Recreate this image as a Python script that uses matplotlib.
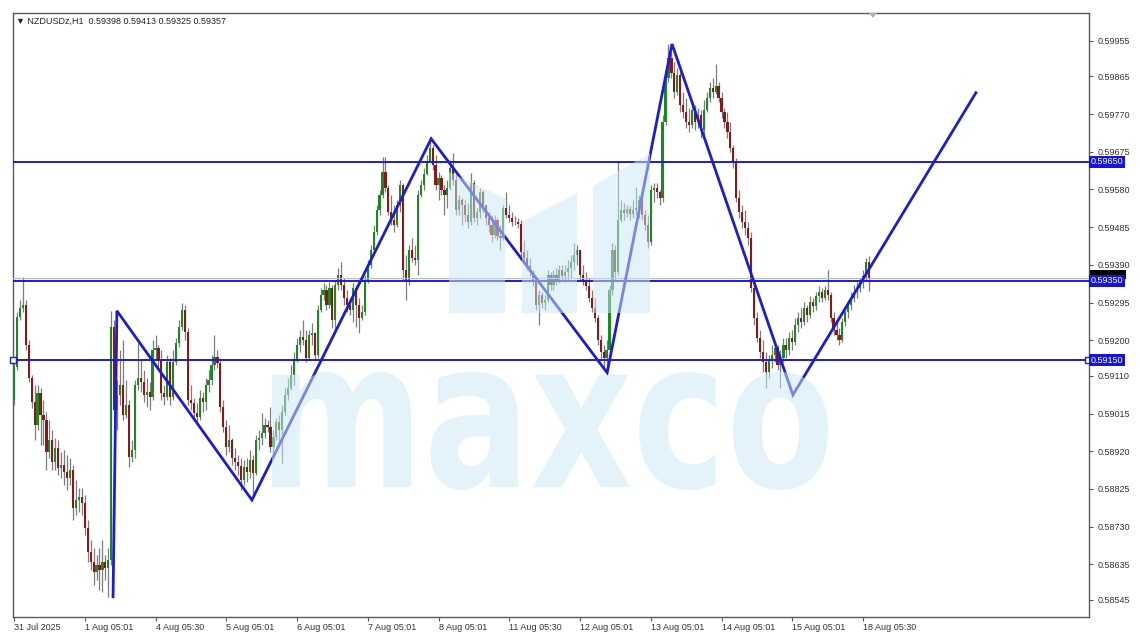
import numpy as np
import matplotlib.pyplot as plt
from matplotlib.patches import PathPatch, Polygon, Rectangle
from matplotlib.textpath import TextPath
from matplotlib.font_manager import FontProperties
from matplotlib.transforms import Affine2D, blended_transform_factory

plt.rcParams['font.family'] = ['Liberation Sans', 'DejaVu Sans']

SYMBOL = "NZDUSDz,H1"
LAST_OHLC = "0.59398 0.59413 0.59325 0.59357"

# H1 bars, prices in 1e-5 units; open of each bar = previous close
first_open = 59049
closes = [
    59132, 59258, 59281, 59289, 59188, 59105, 59043, 58986, 59067, 59011,
    58999, 58918, 58948, 58893, 58928, 58877, 58885, 58867, 58852, 58872,
    58777, 58797, 58804, 58789, 58726, 58666, 58640, 58615, 58633, 58620,
    58640, 58625, 58645, 59233, 59024, 59062, 59087, 59011, 59036, 58905,
    58923, 59087, 59105, 59095, 59062, 59069, 59057, 59175, 59180, 59150,
    59067, 59057, 59145, 59057, 59145, 59193, 59233, 59276, 59221, 59049,
    59041, 59016, 59006, 59054, 59043, 59087, 59100, 59137, 59158, 59142,
    59031, 58981, 58930, 58948, 58903, 58893, 58883, 58847, 58880, 58867,
    58898, 58865, 58948, 58953, 58966, 58986, 58981, 58930, 58956, 58994,
    58973, 59019, 59062, 59080, 59112, 59150, 59188, 59208, 59200, 59155,
    59213, 59218, 59163, 59276, 59314, 59327, 59289, 59332, 59251, 59339,
    59364, 59339, 59306, 59289, 59276, 59332, 59289, 59256, 59271, 59352,
    59390, 59427, 59473, 59528, 59566, 59624, 59584, 59523, 59503, 59490,
    59541, 59591, 59377, 59347, 59427, 59407, 59402, 59566, 59591, 59619,
    59649, 59685, 59642, 59591, 59609, 59579, 59566, 59584, 59634, 59604,
    59528, 59554, 59541, 59516, 59498, 59596, 59508, 59523, 59574, 59541,
    59508, 59490, 59465, 59503, 59463, 59458, 59533, 59516, 59508, 59498,
    59498, 59493, 59422, 59407, 59387, 59372, 59347, 59289, 59314, 59294,
    59301, 59364, 59339, 59364, 59352, 59377, 59362, 59372, 59382, 59397,
    59415, 59427, 59364, 59347, 59337, 59306, 59281, 59256, 59200, 59170,
    59155, 59175, 59327, 59427, 59372, 59503, 59528, 59521, 59531, 59518,
    59528, 59533, 59554, 59516, 59490, 59448, 59579, 59584, 59574, 59559,
    59750, 59861, 59912, 59874, 59826, 59869, 59793, 59775, 59750, 59743,
    59781, 59750, 59768, 59730, 59781, 59811, 59836, 59826, 59841, 59811,
    59775, 59750, 59725, 59685, 59649, 59559, 59523, 59498, 59483, 59458,
    59332, 59256, 59205, 59170, 59145, 59120, 59150, 59163, 59180, 59137,
    59155, 59188, 59175, 59205, 59195, 59238, 59256, 59246, 59281, 59264,
    59296, 59286, 59312, 59322, 59306, 59327, 59314, 59256, 59226, 59213,
    59200, 59246, 59271, 59289, 59306, 59322, 59332, 59347, 59362, 59398,
    59357,
]
highs = [
    59150, 59271, 59301, 59359, 59301, 59200, 59112, 59087, 59087, 59080,
    59049, 59019, 58999, 58973, 58953, 58948, 58918, 58923, 58910, 58903,
    58885, 58847, 58827, 58827, 58809, 58746, 58696, 58676, 58658, 58676,
    58696, 58658, 58676, 59274, 59251, 59100, 59175, 59200, 59100, 59049,
    58948, 59100, 59193, 59150, 59125, 59105, 59095, 59200, 59213, 59188,
    59175, 59087, 59163, 59155, 59175, 59205, 59251, 59294, 59289, 59231,
    59087, 59054, 59041, 59074, 59069, 59105, 59125, 59163, 59213, 59175,
    59155, 59049, 58999, 58986, 58953, 58928, 58910, 58903, 58898, 58903,
    58923, 58910, 58961, 58973, 59016, 59004, 58999, 59031, 58973, 59004,
    59011, 59036, 59080, 59105, 59137, 59170, 59205, 59226, 59251, 59226,
    59226, 59243, 59221, 59289, 59332, 59344, 59339, 59347, 59339, 59352,
    59382, 59397, 59357, 59327, 59306, 59344, 59339, 59306, 59289, 59364,
    59402, 59440, 59490, 59541, 59579, 59662, 59662, 59591, 59566, 59541,
    59554, 59604, 59596, 59415, 59440, 59458, 59440, 59579, 59604, 59634,
    59667, 59705, 59692, 59667, 59624, 59617, 59591, 59604, 59654, 59672,
    59617, 59566, 59559, 59554, 59546, 59622, 59604, 59533, 59584, 59579,
    59541, 59523, 59516, 59516, 59508, 59490, 59541, 59574, 59541, 59523,
    59513, 59508, 59503, 59453, 59427, 59407, 59377, 59357, 59327, 59322,
    59314, 59377, 59372, 59377, 59382, 59390, 59390, 59390, 59402, 59415,
    59445, 59440, 59427, 59390, 59372, 59357, 59327, 59306, 59264, 59213,
    59188, 59200, 59339, 59445, 59440, 59649, 59554, 59546, 59541, 59538,
    59554, 59586, 59566, 59566, 59528, 59516, 59591, 59596, 59596, 59579,
    59768, 59881, 59947, 59927, 59902, 59887, 59876, 59826, 59811, 59786,
    59801, 59793, 59786, 59781, 59806, 59826, 59851, 59861, 59897, 59851,
    59826, 59786, 59775, 59750, 59692, 59659, 59579, 59541, 59528, 59498,
    59473, 59339, 59271, 59226, 59200, 59170, 59163, 59188, 59195, 59188,
    59175, 59205, 59205, 59221, 59226, 59256, 59271, 59281, 59296, 59289,
    59312, 59306, 59322, 59337, 59332, 59337, 59377, 59322, 59271, 59246,
    59231, 59256, 59286, 59301, 59322, 59339, 59347, 59357, 59377, 59407,
    59413,
]
lows = [
    59036, 59125, 59251, 59271, 59175, 59095, 59029, 58948, 58973, 58935,
    58935, 58872, 58903, 58872, 58872, 58860, 58852, 58835, 58822, 58835,
    58746, 58759, 58766, 58759, 58709, 58640, 58620, 58582, 58595, 58570,
    58565, 58595, 58552, 58633, 58999, 58973, 59036, 58999, 59004, 58880,
    58893, 58903, 59074, 59069, 59043, 59031, 59024, 59049, 59150, 59130,
    59049, 59036, 59049, 59036, 59049, 59137, 59183, 59226, 59200, 59036,
    59024, 59004, 58994, 58999, 59019, 59024, 59069, 59087, 59125, 59130,
    59019, 58968, 58910, 58918, 58885, 58872, 58860, 58822, 58835, 58842,
    58852, 58804, 58860, 58923, 58935, 58953, 58968, 58918, 58910, 58948,
    58935, 58890, 59011, 59049, 59074, 59087, 59145, 59170, 59188, 59145,
    59150, 59188, 59150, 59155, 59271, 59301, 59276, 59281, 59231, 59226,
    59327, 59327, 59289, 59271, 59264, 59246, 59233, 59218, 59251, 59264,
    59344, 59382, 59422, 59465, 59516, 59559, 59574, 59516, 59490, 59473,
    59485, 59523, 59352, 59301, 59339, 59397, 59390, 59364, 59561, 59579,
    59617, 59649, 59629, 59579, 59554, 59566, 59516, 59533, 59579, 59591,
    59516, 59516, 59490, 59498, 59483, 59490, 59498, 59490, 59508, 59523,
    59490, 59473, 59448, 59458, 59453, 59427, 59453, 59508, 59498, 59488,
    59490, 59483, 59412, 59397, 59377, 59362, 59337, 59276, 59238, 59281,
    59276, 59296, 59327, 59327, 59339, 59344, 59352, 59347, 59352, 59357,
    59377, 59390, 59352, 59339, 59327, 59296, 59271, 59246, 59188, 59150,
    59130, 59125, 59163, 59314, 59352, 59364, 59498, 59503, 59511, 59503,
    59508, 59516, 59508, 59503, 59478, 59432, 59440, 59549, 59559, 59541,
    59549, 59743, 59851, 59861, 59811, 59818, 59775, 59760, 59735, 59725,
    59735, 59730, 59735, 59710, 59717, 59775, 59801, 59811, 59821, 59801,
    59760, 59735, 59710, 59675, 59634, 59549, 59508, 59483, 59465, 59440,
    59322, 59238, 59195, 59155, 59120, 59080, 59105, 59130, 59145, 59125,
    59080, 59145, 59155, 59163, 59175, 59188, 59221, 59231, 59238, 59246,
    59256, 59271, 59276, 59296, 59296, 59301, 59301, 59246, 59213, 59200,
    59188, 59195, 59236, 59256, 59276, 59296, 59306, 59322, 59332, 59352,
    59325,
]

# date labels, one every 24 bars
date_labels = ["31 Jul 2025", "1 Aug 05:01", "4 Aug 05:30", "5 Aug 05:01",
               "6 Aug 05:01", "7 Aug 05:01", "8 Aug 05:01", "11 Aug 05:30",
               "12 Aug 05:01", "13 Aug 05:01", "14 Aug 05:01", "15 Aug 05:01",
               "18 Aug 05:30"]
price_ticks = [0.59955, 0.59865, 0.59770, 0.59675, 0.59580, 0.59485, 0.59390,
               0.59295, 0.59200, 0.59110, 0.59015, 0.58920, 0.58825, 0.58730,
               0.58635, 0.58545]

levels = [0.59650, 0.59350, 0.59150]
bid = 0.59357

# zigzag drawn by hand (bar position, price)
zz_bar = [33.6, 34.9, 80.7, 141.5, 201.2, 223.2, 264.2, 326.3]
zz_price = [0.58553, 0.59274, 0.58797, 0.59708, 0.59118, 0.59947, 0.59062, 0.59824]

GREEN = "#1f8626"
RED = "#861a1a"
WICK = "#7c7c7c"
LINE_BLUE = "#1c1cd2"
TAG_BLUE = "#1414dc"

c = np.array(closes) / 1e5
h = np.array(highs) / 1e5
l = np.array(lows) / 1e5
o = np.concatenate([[first_open / 1e5], c[:-1]])
h = np.maximum(h, np.maximum(o, c))
l = np.minimum(l, np.minimum(o, c))
x = np.arange(len(c))

fig = plt.figure(figsize=(11.4, 6.41), dpi=100)
ax = fig.add_axes([13 / 1140, 24 / 641, 1076 / 1140, 604 / 641])

ax.vlines(x, l, h, color=WICK, lw=0.9, zorder=2)
body = c - o
body = np.where(np.abs(body) < 1e-5, 1e-5, body)
up = c >= o
ax.bar(x[up], body[up], bottom=o[up], width=0.74, color=GREEN, lw=0, zorder=3)
ax.bar(x[~up], body[~up], bottom=o[~up], width=0.74, color=RED, lw=0, zorder=3)

ax.set_xlim(-0.34, 364.65)
ax.set_ylim(0.58502, 0.60025)

for lv in levels:
    ax.axhline(lv, color=LINE_BLUE, lw=1.4, zorder=4)
ax.axhline(bid, color="#b8b8d0", lw=0.8, zorder=3.5)
ax.plot([x[0] - 0.2, 364.4], [levels[2], levels[2]], ls="none", marker="s",
        ms=4, mfc="white", mec=LINE_BLUE, mew=1, zorder=5, clip_on=False)

ax.plot(zz_bar, zz_price, color=LINE_BLUE, lw=2.0, zorder=4,
        solid_joinstyle="miter")

# axes styling
for s in ax.spines.values():
    s.set_color("#5a5a5a")
    s.set_linewidth(1.0)
ax.yaxis.tick_right()
ax.set_yticks(price_ticks)
ax.set_yticklabels([f"{p:.5f}" for p in price_ticks])
ax.set_xticks(np.arange(0, 24 * len(date_labels), 24))
ax.set_xticklabels(date_labels, ha="left")
ax.tick_params(axis="y", length=3, width=0.8, pad=3, labelsize=6.5,
               colors="#5a5a5a", labelcolor="#333333")
ax.tick_params(axis="x", length=3, width=0.8, pad=1.5, labelsize=6.5,
               colors="#5a5a5a", labelcolor="#333333")

# price tags on the right scale (bid tag mostly hidden under the 0.59350 tag)
blend = blended_transform_factory(ax.transAxes, ax.transData)
ax.add_patch(Rectangle((1.0012, bid - 0.00003), 0.033, 0.00022, transform=blend,
                       fc="black", ec="none", clip_on=False, zorder=6))
for lv in levels:
    ax.text(1.0018, lv, f"{lv:.5f}", transform=blend, ha="left", va="center",
            fontsize=6.5, color="white", zorder=7,
            bbox=dict(boxstyle="square,pad=0.18", fc=TAG_BLUE, ec="none"))

fig.text(16 / 1140, 1 - 21 / 641, f"\u25bc {SYMBOL}  {LAST_OHLC}",
         fontsize=6.5, color="#222222", va="center")

# watermark overlay, in pixel space
ov = fig.add_axes([0, 0, 1, 1], zorder=5)
ov.set_xlim(0, 1140)
ov.set_ylim(641, 0)
ov.axis("off")
ov.patch.set_alpha(0)

wm_color = (0.80, 0.91, 0.97)
wm_alpha = 0.52
for quad in ([(449, 313), (449, 172), (505, 198), (505, 313)],
             [(522, 313), (522, 222), (577, 193), (577, 313)],
             [(593, 313), (593, 186), (650, 153), (650, 313)]):
    ov.add_patch(Polygon(quad, closed=True, fc=wm_color, ec="none", alpha=wm_alpha))

tp = TextPath((0, 0), "maxco", size=100,
              prop=FontProperties(family="DejaVu Sans", weight="bold"))
bb = tp.get_extents()
sx = (828 - 272) / bb.width
sy = (490 - 372) / bb.height
tr = Affine2D().translate(-bb.x0, -bb.y0).scale(sx, -sy).translate(272, 490)
ov.add_patch(PathPatch(tr.transform_path(tp), fc=wm_color, ec="none", alpha=wm_alpha))

# chart shift marker
ov.add_patch(Polygon([(869, 13), (877, 13), (873, 18)], closed=True,
                     fc="#b0b0b0", ec="none"))

fig.savefig("out.png", dpi=100)
